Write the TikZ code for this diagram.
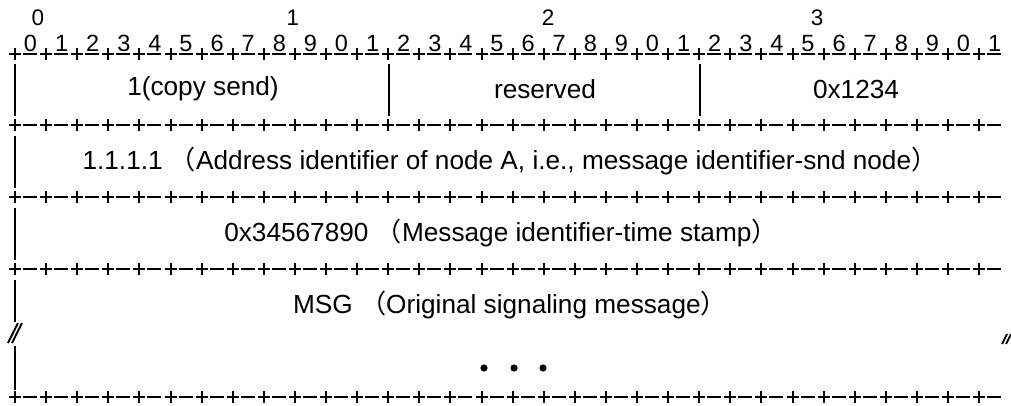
\documentclass[tikz,border=0pt]{standalone}
\usepackage{fontspec}
\setmainfont{Liberation Sans}
\newfontfamily\cjk{Noto Sans CJK SC}
\newcommand\plusrow[1]{%
  \foreach \i in {0,...,31} {%
    \draw (15+\i*31.1-6,#1) -- ++(12,0);
    \draw (15+\i*31.1,#1-6) -- ++(0,12);
    \draw (15+\i*31.1+8,#1) -- ++(14,0);
  }}
\tikzset{
  maintext/.style={inner sep=0pt, font=\fontsize{26.2}{30}\selectfont},
  digit/.style={inner sep=0pt, font=\fontsize{23.5}{26}\selectfont},
  tens/.style={inner sep=0pt, font=\fontsize{22.5}{26}\selectfont},
  bar/.style={line width=2.2pt},
  dotmark/.style={fill=black}
}
\begin{document}
\begin{tikzpicture}[x=1pt,y=-1pt,line width=2pt]
\useasboundingbox (0,0) rectangle (1011,406);
% tens labels
\node[tens] (t0) at (38,18) {0};
\node[tens] (t1) at (293,18) {1};
\node[tens] (t2) at (548,18) {2};
\node[tens] (t3) at (817,18) {3};
% bit digits
\foreach \i in {0,...,31} {
  \pgfmathtruncatemacro\d{mod(\i,10)}
  \node[digit, anchor=base] (b\i) at (15+\i*31.1+15.5,52) {\d};
}
% separator rows
\plusrow{54}
\plusrow{125}
\plusrow{197}
\plusrow{269}
\plusrow{397}
% vertical bars
\draw[bar] (15,64) -- (15,116);
\draw[bar] (389,64) -- (389,116);
\draw[bar] (700,64) -- (700,116);
\draw[bar] (15,136) -- (15,188);
\draw[bar] (15,208) -- (15,260);
\draw[bar] (15,280) -- (15,322);
\draw[bar] (15,346) -- (15,390);
% break marks
\draw[line width=1.8pt] (8,343) -- (18,323);
\draw[line width=1.8pt] (12,343) -- (22,323);
\draw[line width=1.8pt] (1002,344) -- (1007,334);
\draw[line width=1.8pt] (1006,344) -- (1011,334);
% texts
\node[maintext] (f1) at (203,89) {1(copy send)};
\node[maintext] (f2) at (545,89) {reserved};
\node[maintext] (f3) at (856,89) {0x1234};
\node[maintext] (r2) at (510,161) {1.1.1.1 {\cjk （}Address identifier of node A, i.e., message identifier-snd node{\cjk ）}};
\node[maintext] (r3) at (501,233) {0x34567890 {\cjk （}Message identifier-time stamp{\cjk ）}};
\node[maintext] (r4) at (510,305) {MSG {\cjk （}Original signaling message{\cjk ）}};
\fill[dotmark] (484,368) circle (3.6);
\fill[dotmark] (514,368) circle (3.6);
\fill[dotmark] (543,368) circle (3.6);
\end{tikzpicture}
\end{document}
